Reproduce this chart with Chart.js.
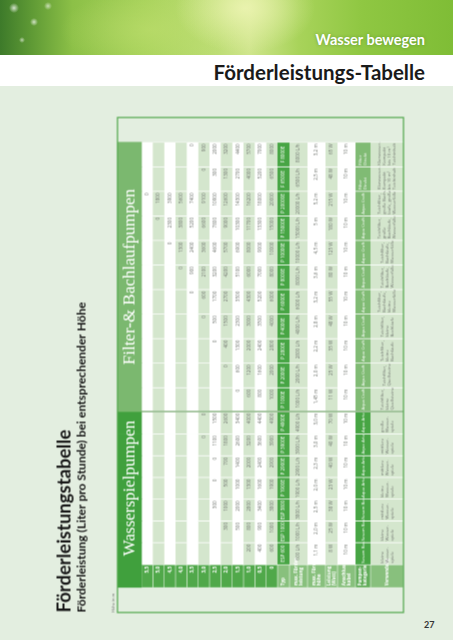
<!DOCTYPE html>
<html lang="de">
<head>
<meta charset="utf-8">
<title>Förderleistungs-Tabelle</title>
<script src="https://cdn.jsdelivr.net/npm/chart.js@4.4.1/dist/chart.umd.min.js"></script>
<style>
    html, body { margin: 0; padding: 0; }
    body {
        width: 453px; height: 640px; position: relative; overflow: hidden;
        background: #e3eee0; font-family: Lato, "Open Sans", sans-serif;
    }
    #photo {
        position: absolute; left: 0; top: 0; width: 453px; height: 55px;
        background:
            radial-gradient(circle 5px at 14px 8px, rgba(255,255,255,0.75), rgba(255,255,255,0) 100%),
            radial-gradient(circle 4px at 34px 22px, rgba(255,255,255,0.7), rgba(255,255,255,0) 100%),
            radial-gradient(circle 3px at 22px 40px, rgba(255,255,255,0.6), rgba(255,255,255,0) 100%),
            radial-gradient(circle 4px at 48px 6px, rgba(255,255,255,0.6), rgba(255,255,255,0) 100%),
            radial-gradient(ellipse 70px 45px at 245px 8px, rgba(238,245,180,0.85), rgba(238,245,180,0) 100%),
            radial-gradient(ellipse 90px 40px at 150px 30px, rgba(190,222,110,0.6), rgba(190,222,110,0) 100%),
            linear-gradient(90deg, #3d7a2a 0%, #5f9a35 7%, #8cc047 16%, #a7d25a 32%, #bddd75 48%, #cfe58c 55%, #a8d35a 66%, #8fc742 80%, #7fbd36 100%);
    }
    #kicker {
        position: absolute; right: 28px; top: 30.5px; color: #ffffff;
        font: bold 14.5px Lato, sans-serif; text-shadow: 0 0 3px rgba(60,110,30,0.5);
    }
    #band { position: absolute; left: 0; top: 55px; width: 453px; height: 31px; background: #ffffff; }
    #heading {
        position: absolute; right: 28px; top: 4.5px; color: #1a1a1a;
        font: bold 20.5px Lato, sans-serif; white-space: nowrap;
    }
    #turn {
        position: absolute; left: -22.5px; top: 187.5px; width: 510px; height: 355px;
        transform: rotate(-90deg);
    }
    #pageNo { position: absolute; left: 424px; top: 619px; font: bold 9px Lato, sans-serif; color: #333; }
</style>
</head>
<body>
<div id="photo"><div id="kicker">Wasser bewegen</div></div>
<div id="band"><div id="heading">Förderleistungs-Tabelle</div></div>
<div id="turn"><canvas id="pumpTable" width="510" height="355"></canvas></div>
<div id="pageNo">27</div>

<script>
// Höhen (m) = Tabellenzeilen
const heights = ['5,5', '5,0', '4,5', '4,0', '3,5', '3,0', '2,5', '2,0', '1,5', '1,0', '0,5', '0'];

// Pumpen, in der Reihenfolge der Tabellenspalten
const groupNames = ['Wasserspielpumpen', 'Filter-& Bachlaufpumpen'];
const pumpGroup = [0, 0, 0, 0, 0, 0, 0, 1, 1, 1, 1, 1, 1, 1, 1, 1, 1, 1];
const pumpTypes = ['ESP 600', 'ESP 1000', 'ESP 3800', 'P 1900E', 'P 2900E', 'P 3900E', 'P 4900E',
    'P 1000E', 'P 2000E', 'P 2800E', 'P 4000E', 'P 6000E', 'P 8000E', 'P 10000E', 'P 15000E', 'P 20000E',
    'F 6500E', 'F 8000E'];
const maxFlow = [600, 1000, 3800, 1900, 2900, 3900, 4900,
    1000, 2000, 2800, 4000, 6000, 8000, 10000, 15000, 20000, 6500, 8000];
const maxHead = ['1,1', '2,0', '2,5', '2,0', '2,3', '3,0', '3,0',
    '1,45', '2,0', '2,2', '2,8', '3,2', '3,6', '4,5', '5', '5,2', '2,5', '3,2'];
const power = [8, 25, 38, 23, 40, 40, 70, 11, 25, 35, 48, 55, 80, 125, 180, 215, 48, 65];
const cableLength = [10, 10, 10, 10, 10, 10, 10, 10, 10, 10, 10, 10, 10, 10, 10, 10, 10, 10];
const category = ['Sesam Bas', 'Sesam Bas', 'Sesam Bas', 'Aqua Arte', 'Aqua Arte', 'Aqua Arte', 'Aqua Arte',
    'Aqua Craft', 'Aqua Craft', 'Aqua Craft', 'Aqua Craft', 'Aqua Craft', 'Aqua Craft', 'Aqua Craft',
    'Aqua Craft', 'Aqua Craft', 'Filter\nDirekt', 'Filter\nDirekt'];
const usage = ['kleine\nWasser-\nspiele', 'kleine\nWasser-\nspiele', 'mittlere\nWasser-\nspiele',
    'kleine\nWasser-\nspiele', 'mittlere\nWasser-\nspiele', 'mittlere\nWasser-\nspiele', 'große\nWasser-\nspiele',
    'Teichfilter,\nkleine\nQuellsteine', 'Teichfilter,\nQuellsteine', 'Teichfilter,\nkleine\nBachläufe',
    'Teichfilter,\nkleine\nBachläufe', 'Teichfilter,\nBachläufe,\nkleine\nWasserfälle',
    'Teichfilter,\nBachläufe,\nWasserfälle', 'Teichfilter,\nBachläufe,\nWasserfälle',
    'Teichfilter,\ngroße\nBachläufe,\nWasserfälle', 'Teichfilter,\ngroße Bach-\nläufe, große\nWasserfälle',
    'Klarwasser-\nKompakt\nbis 10 m³\nTeichinhalt', 'Klarwasser-\nKompakt\nbis 10 m³\nTeichinhalt'];

// Förderleistung (L/h) je Pumpe bei 5,5 ... 0 m Höhe (null = leer)
const flowAtHeight = [
    [null, null, null, null, null, null, null, null, null, 200, 400, 600],
    [null, null, null, null, null, null, null, 300, 500, 800, 900, 1000],
    [null, null, null, null, null, null, 300, 1000, 2000, 2800, 3400, 3800],
    [null, null, null, null, null, null, 0, 500, 1000, 1300, 1600, 1900],
    [null, null, null, null, null, null, 0, 700, 1400, 2000, 2400, 2900],
    [null, null, null, null, null, 0, 1100, 1800, 2600, 3200, 3600, 3900],
    [null, null, null, null, null, 0, 1500, 2600, 3400, 4000, 4400, 4900],
    [null, null, null, null, null, null, null, null, 0, 600, 800, 1000],
    [null, null, null, null, null, null, null, 0, 600, 1200, 1600, 2000],
    [null, null, null, null, null, null, 0, 400, 1300, 2000, 2400, 2800],
    [null, null, null, null, null, 0, 500, 1500, 2300, 3000, 3500, 4000],
    [null, null, null, null, 0, 600, 1700, 2700, 3500, 4300, 5200, 6000],
    [null, null, null, 0, 900, 2100, 3200, 4200, 5100, 6000, 7000, 8000],
    [null, null, 0, 1300, 2400, 3600, 4600, 5700, 6900, 8000, 9000, 10000],
    [null, 0, 2300, 3800, 5200, 6600, 7800, 9000, 10300, 11700, 13300, 15000],
    [0, 1800, 3900, 5600, 7400, 9100, 10900, 12600, 14300, 16200, 18000, 20000],
    [null, null, null, null, null, 0, 300, 1300, 2700, 4000, 5200, 6500],
    [null, null, null, null, 0, 900, 2000, 3200, 4400, 5700, 7000, 8000]
];

const attrLabels = ['Typ', 'max. Förder-\nleistung', 'max. Förder-\nhöhe', 'Leistung\n(Watt)',
    'Anschluss-\nkabel', 'Pumpen-\nkategorie', 'Verwendung'];

// Farben
const C = {
    dark: '#40a03d', filterBand: '#7bb86f', label: '#50a84a', attrLabel: '#88c07d', catLabel: '#62ad5a',
    typ: '#47a544', catFilter: '#80bb74', light: '#d4e6cd', white: '#ffffff', num: '#6f746e'
};

// Tabellen-Raster (ungedreht): Zeilenhöhen und Spaltenbreiten in px
const headRowH = 24;
const heightRowH = 11.33;
const attrRowH = [12, 18, 18, 12, 18, 15, 33];
const labelColW = 26;
const groupColW = [24.14, 27.27];

// Spaltenmitten
const colX = [labelColW / 2];
let accX = labelColW;
pumpGroup.forEach(g => { colX.push(accX + groupColW[g] / 2); accX += groupColW[g]; });
const tableW = accX;

// Zeilen der Tabelle aufbauen
const rows = [];
rows.push({
    h: headRowH, noBorder: true,
    text: colX.map(() => ''),
    bg: [C.dark, ...pumpGroup.map(g => g ? C.filterBand : C.dark)]
});
heights.forEach((hLabel, k) => {
    rows.push({
        h: heightRowH, size: 4.6, align: 'right',
        text: [hLabel, ...flowAtHeight.map(f => f[k] === null ? '' : String(f[k]))],
        bg: [C.label, ...pumpGroup.map(() => k % 2 ? C.light : C.white)],
        color: [C.white, ...pumpGroup.map(() => C.num)]
    });
});
const attrCells = [
    pumpTypes,
    maxFlow.map(v => v + ' L/h'),
    maxHead.map(v => v + ' m'),
    power.map(v => v + ' W'),
    cableLength.map(v => v + ' m'),
    category,
    usage
];
const attrBg = [
    pumpGroup.map(() => C.typ),
    pumpGroup.map(() => C.light),
    pumpGroup.map(() => C.white),
    pumpGroup.map(() => C.light),
    pumpGroup.map(() => C.white),
    pumpGroup.map(g => g ? C.catFilter : C.typ),
    pumpGroup.map(() => C.light)
];
attrCells.forEach((cells, a) => {
    const whiteText = a === 0 || a === 5;
    rows.push({
        h: attrRowH[a], size: a >= 5 ? 4.3 : 4.6, align: a >= 5 ? 'left' : (a === 0 ? 'center' : 'right'),
        labelAlign: 'left',
        text: [attrLabels[a], ...cells],
        bg: [a === 5 ? C.catLabel : C.attrLabel, ...attrBg[a]],
        color: [C.white, ...pumpGroup.map(() => whiteText ? C.white : C.num)]
    });
});
const tableH = rows.reduce((s, r) => s + r.h, 0);

// Datasets: eine Tabellenzeile = ein Dataset, jede Zelle ein schwebender Balken
let accY = 0;
const datasets = rows.map(r => {
    const y0 = accY;
    accY += r.h;
    return {
        data: colX.map(x => ({ x: x, y: [y0, y0 + r.h] })),
        backgroundColor: r.bg,
        borderColor: '#ffffff',
        borderWidth: (c) => r.noBorder ? 0
            : (c.dataIndex === 0 ? { top: 0.5, bottom: 0.5, left: 0, right: 0 }
                                 : { left: 0.7, right: 0.7, top: 0, bottom: 0 }),
        borderSkipped: false,
        barThickness: 'flex',
        categoryPercentage: 1,
        barPercentage: 1,
        cellText: r.text,
        cellColor: r.color,
        cellSize: r.size,
        cellAlign: r.align,
        labelAlign: r.labelAlign || r.align
    };
});

// Zellentexte, Gruppenköpfe und Rahmen
const tableTextPlugin = {
    id: 'tableText',
    afterDatasetsDraw(chart) {
        const ctx = chart.ctx;
        const area = chart.chartArea;
        ctx.save();
        ctx.textBaseline = 'middle';

        chart.data.datasets.forEach((ds, di) => {
            const meta = chart.getDatasetMeta(di);
            meta.data.forEach((bar, i) => {
                const txt = ds.cellText[i];
                if (!txt) return;
                const p = bar.getProps(['x', 'y', 'base', 'width'], true);
                const left = p.x - p.width / 2, right = p.x + p.width / 2;
                const top = Math.min(p.y, p.base), bottom = Math.max(p.y, p.base);
                const align = i === 0 ? ds.labelAlign : ds.cellAlign;
                const size = ds.cellSize;
                const lines = txt.split('\n');
                const lh = size * 1.2;
                let tx = p.x;
                if (align === 'left') tx = left + 1.6;
                if (align === 'right') tx = right - 1.6;
                ctx.textAlign = align;
                ctx.fillStyle = ds.cellColor[i];
                ctx.font = (i === 0 ? 'bold ' : '') + size + 'px "Open Sans"';
                const y0 = (top + bottom) / 2 - (lines.length - 1) * lh / 2;
                lines.forEach((ln, li) => ctx.fillText(ln, tx, y0 + li * lh));
            });
        });

        // Gruppenköpfe
        const headBars = chart.getDatasetMeta(0).data;
        groupNames.forEach((name, g) => {
            const idx = pumpGroup.map((pg, i) => pg === g ? i + 1 : -1).filter(i => i > 0);
            const b0 = headBars[idx[0]], b1 = headBars[idx[idx.length - 1]];
            const x0 = b0.x - b0.width / 2, x1 = b1.x + b1.width / 2;
            ctx.fillStyle = '#ffffff';
            ctx.textAlign = 'center';
            ctx.font = '17px "Liberation Serif"';
            ctx.fillText(name, (x0 + x1) / 2, (b0.y + b0.base) / 2 + 1);
        });

        // Trennlinie zwischen den Gruppen
        const lastSpiel = headBars[pumpGroup.lastIndexOf(0) + 1];
        const sepX = lastSpiel.x + lastSpiel.width / 2;
        ctx.strokeStyle = '#8db587';
        ctx.lineWidth = 1.5;
        ctx.beginPath();
        ctx.moveTo(sepX, Math.max(lastSpiel.y, lastSpiel.base));
        ctx.lineTo(sepX, area.bottom);
        ctx.stroke();

        // Rahmen
        ctx.strokeStyle = '#4fa64a';
        ctx.lineWidth = 1.2;
        ctx.strokeRect(area.left, area.top, area.right - area.left, area.bottom - area.top);

        // Einheit der Höhenspalte
        ctx.fillStyle = '#666';
        ctx.textAlign = 'left';
        ctx.textBaseline = 'bottom';
        ctx.font = '4px "Open Sans"';
        ctx.fillText('Höhe in m', area.left, area.top - 2);
        ctx.restore();
    }
};

const ctx = document.getElementById('pumpTable').getContext('2d');
const pumpChart = new Chart(ctx, {
    type: 'bar',
    data: { datasets: datasets },
    options: {
        indexAxis: 'x',
        responsive: false,
        animation: false,
        layout: { padding: { left: 8, right: 7, top: 0, bottom: 7 } },
        plugins: {
            legend: { display: false },
            tooltip: { enabled: false },
            title: {
                display: true,
                text: 'Förderleistungstabelle',
                align: 'start',
                color: '#161616',
                font: { family: 'Lato', size: 18.5, weight: 'bold', lineHeight: 1.0 },
                padding: { top: 0, bottom: 0 }
            },
            subtitle: {
                display: true,
                text: 'Förderleistung (Liter pro Stunde) bei entsprechender Höhe',
                align: 'start',
                color: '#161616',
                font: { family: 'Lato', size: 12, weight: 'bold', lineHeight: 1.0 },
                padding: { top: 1.5, bottom: 30 }
            }
        },
        scales: {
            x: { type: 'linear', min: 0, max: tableW, stacked: true, display: false },
            y: { type: 'linear', min: 0, max: tableH, reverse: true, stacked: false, display: false }
        }
    },
    plugins: [tableTextPlugin]
});
</script>
</body>
</html>
